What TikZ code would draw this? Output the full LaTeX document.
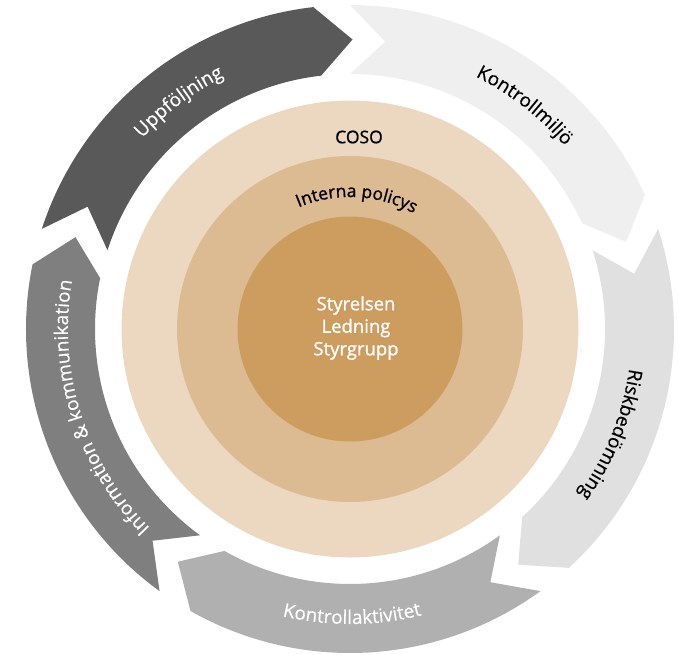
\documentclass[tikz,border=0pt]{standalone}
\usepackage{fontspec}
\setmainfont{Open Sans}
\newfontfamily\semifont[FakeBold=1]{Open Sans}
\newfontfamily\mediumfont[FakeBold=0.4]{Open Sans}
\usetikzlibrary{decorations.text}
\usepackage{xcolor}

\definecolor{cosobeige}{HTML}{ECD8C0}
\definecolor{policybeige}{HTML}{DDBB92}
\definecolor{boardbrown}{HTML}{CD9C5F}
\definecolor{miljogray}{HTML}{EFEFEF}
\definecolor{riskgray}{HTML}{E0E0E0}
\definecolor{aktivgray}{HTML}{B0B0B0}
\definecolor{infogray}{HTML}{7F7F7F}
\definecolor{uppfgray}{HTML}{595959}

\newcommand{\ringfont}{\mediumfont\fontsize{19}{22}\selectfont}
\newcommand{\corefont}{\semifont\fontsize{18.5}{22.5}\selectfont}
\newcommand{\cosofont}{\semifont\fontsize{17.5}{21}\selectfont}

\begin{document}
\begin{tikzpicture}[x=1pt, y=1pt,
every node/.style={
    circle,
    inner sep=0pt,
    draw=none
},
ringlabel/.style 2 args={
    decorate,
    decoration={text along path, text align=center, text color=#1, text={#2}}
}]
    \useasboundingbox (-350,-325) rectangle (329,329);

    \node (coso_circle) [fill=cosobeige, minimum size=457pt]
    {
    };
    \node (policy_circle) [fill=policybeige, minimum size=346pt]
    {
    };
    \node (board_circle) [fill=boardbrown, minimum size=225pt]
    {
    };



    \node (coso_label) [font=\cosofont, shift={(9,192)}]
    {
        COSO
    };
    \node (board_label) [text=white, align=center, font=\corefont, shift={(6,1)}]
    {
        Styrelsen\\Ledning\\Styrgrupp
    };
    \path[ringlabel={black}{|\cosofont|Interna policys}] (127:132) arc[start angle=127, end angle=47, radius=132];




    % the cycle round the circles, clockwise
    \fill[miljogray] (90:324) arc[start angle=90, end angle=24.5, radius=324] -- (17.5:289.5) -- (24.5:255)
        arc[start angle=24.5, end angle=90, radius=255] -- (83:289.5) -- cycle;
    \fill[riskgray] (18:324) arc[start angle=18, end angle=-47.5, radius=324] -- (-54.5:289.5) -- (-47.5:255)
        arc[start angle=-47.5, end angle=18, radius=255] -- (11:289.5) -- cycle;
    \fill[aktivgray] (-54:324) arc[start angle=-54, end angle=-119.5, radius=324] -- (-126.5:289.5) -- (-119.5:255)
        arc[start angle=-119.5, end angle=-54, radius=255] -- (-61:289.5) -- cycle;
    \fill[infogray] (234:324) arc[start angle=234, end angle=168.5, radius=324] -- (161.5:289.5) -- (168.5:255)
        arc[start angle=168.5, end angle=234, radius=255] -- (227:289.5) -- cycle;
    \fill[uppfgray] (162:324) arc[start angle=162, end angle=96.5, radius=324] -- (89.5:289.5) -- (96.5:255)
        arc[start angle=96.5, end angle=162, radius=255] -- (155:289.5) -- cycle;


    \path[ringlabel={black}{|\ringfont|Kontrollmiljö}] (92:282) arc[start angle=92, end angle=12, radius=282];
    \path[ringlabel={black}{|\ringfont|Riskbedömning}] (18:282) arc[start angle=18, end angle=-62, radius=282];
    \path[ringlabel={white}{|\ringfont|Kontrollaktivitet}] (-129.6:295) arc[start angle=-129.6, end angle=-49.6, radius=295];
    \path[ringlabel={white}{|\ringfont|Information {\&} kommunikation}] (242.5:282) arc[start angle=242.5, end angle=152.5, radius=282];
    \path[ringlabel={white}{|\ringfont|Uppföljning}] (167:282) arc[start angle=167, end angle=87, radius=282];


\end{tikzpicture}
\end{document}
